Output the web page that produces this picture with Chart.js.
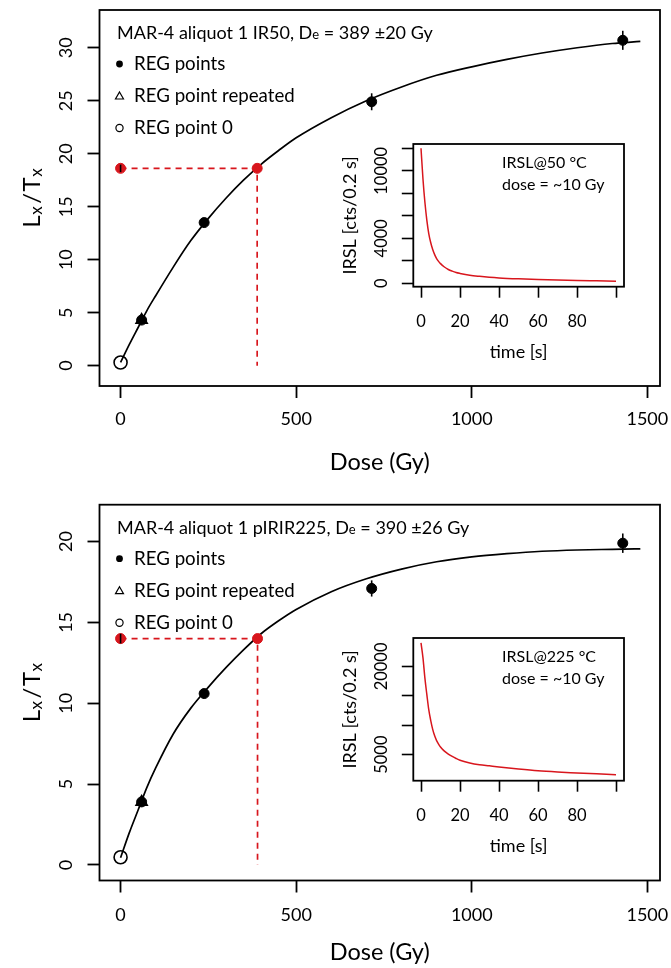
<!DOCTYPE html>
<html>
<head>
<meta charset="utf-8">
<script src="https://cdn.jsdelivr.net/npm/chart.js@4/dist/chart.umd.min.js"></script>
<style>
html, body { margin: 0; padding: 0; background: #fff; overflow: hidden; }
#wrap { position: relative; width: 671px; height: 968px; }
canvas { position: absolute; }
</style>
</head>
<body>
<div id="wrap">
<canvas id="main1" width="671" height="484" style="left:0px;top:0px"></canvas>
<canvas id="inset1" width="300" height="230" style="left:330px;top:134px"></canvas>
<canvas id="main2" width="671" height="484" style="left:0px;top:494px"></canvas>
<canvas id="inset2" width="300" height="230" style="left:330px;top:628px"></canvas>
</div>
<script>
// fitted growth curves (dose in Gy, Lx/Tx)
var curveDose = [0, 25, 50, 75, 100, 150, 200, 250, 300, 350, 400, 450, 500, 600, 700, 800, 900, 1000, 1100, 1200, 1300, 1400, 1480];
var curveIR50 = [0.3, 2.0, 3.6, 5.2, 6.6, 9.3, 11.8, 13.9, 15.8, 17.5, 19.0, 20.3, 21.5, 23.4, 25.0, 26.3, 27.4, 28.2, 28.9, 29.5, 30.0, 30.4, 30.6];
var curvePIR = [0.45, 2.0, 3.4, 4.8, 6.0, 8.1, 9.7, 11.0, 12.2, 13.3, 14.3, 15.1, 15.8, 16.9, 17.7, 18.3, 18.75, 19.05, 19.25, 19.4, 19.48, 19.52, 19.55];

// regenerated points
var regDose = [60, 238, 715, 1430];
var regIR50 = [4.3, 13.5, 24.9, 30.7];
var regIR50Err = [0.2, 0.3, 0.8, 0.9];
var regPIR = [3.9, 10.6, 17.1, 19.9];
var regPIRErr = [0.15, 0.25, 0.5, 0.6];
var repDose = [60];
var repIR50 = [4.3];
var repPIR = [3.9];
var zeroIR50 = 0.3;
var zeroPIR = 0.48;

// natural signal and De
var lnIR50 = 18.62, lnIR50Err = 0.35, deIR50 = 389;
var lnPIR = 14.0, lnPIRErr = 0.3, dePIR = 390;

// inset decay curves
var timeS = [0, 1, 2, 3, 4, 5, 6, 7, 8, 9, 10, 12, 14, 16, 18, 20, 25, 30, 35, 40, 50, 60, 70, 80, 90, 100];
var irsl50 = [12000, 9300, 7200, 5600, 4400, 3600, 3000, 2550, 2200, 1950, 1750, 1450, 1230, 1080, 960, 880, 720, 620, 540, 480, 400, 340, 290, 250, 220, 190];
var irsl225 = [24000, 21500, 18000, 15200, 12600, 10800, 9300, 8200, 7400, 6800, 6300, 5600, 5100, 4700, 4350, 4050, 3600, 3300, 3100, 2900, 2550, 2250, 2050, 1900, 1750, 1600];

// ticks and tick labels
var doseTicks = [0, 500, 1000, 1500];
var ir50Ticks = [0, 5, 10, 15, 20, 25, 30];
var pirTicks = [0, 5, 10, 15, 20];
var timeTicks = [0, 20, 40, 60, 80, 100];
var timeTickLabels = [0, 20, 40, 60, 80];
var irsl50Ticks = [0, 2000, 4000, 6000, 8000, 10000, 12000];
var irsl50TickLabels = [0, 4000, 10000];
var irsl225Ticks = [5000, 10000, 15000, 20000];
var irsl225TickLabels = [5000, 20000];

var RED = '#d8161d';
var FONT = 'Lato';
Chart.defaults.font.family = FONT;
Chart.defaults.color = '#000';

var drawers = {};

function pts(xs, ys) {
	return xs.map(function (x, i) { return {x: x, y: ys[i]}; });
}

function fixedTicks(list) {
	return function (s) { s.ticks = list.map(function (v) { return {value: v}; }); };
}

// vertical error bars from dataset.errors
var errorBars = {
	id: 'errorBars',
	afterDatasetsDraw: function (chart) {
		var ctx = chart.ctx, xs = chart.scales.x, ys = chart.scales.y;
		chart.data.datasets.forEach(function (ds) {
			if (!ds.errors) return;
			ctx.save();
			ctx.strokeStyle = '#000';
			ctx.lineWidth = 1.6;
			ds.data.forEach(function (p, i) {
				var e = ds.errors[i];
				if (!e) return;
				var px = xs.getPixelForValue(p.x);
				ctx.beginPath();
				ctx.moveTo(px, ys.getPixelForValue(p.y - e));
				ctx.lineTo(px, ys.getPixelForValue(p.y + e));
				ctx.stroke();
			});
			ctx.restore();
		});
	}
};

// box around the plot region + free text
var frame = {
	id: 'frame',
	afterDraw: function (chart) {
		var a = chart.chartArea, ctx = chart.ctx;
		ctx.save();
		ctx.strokeStyle = '#000';
		ctx.lineWidth = 1.8;
		ctx.strokeRect(a.left, a.top, a.right - a.left, a.bottom - a.top);
		ctx.restore();
		var d = drawers[chart.canvas.id];
		if (d) d(ctx, chart);
	}
};

// parts: [text, size, dy, extra advance]
function drawParts(ctx, x, y, parts) {
	parts.forEach(function (p) {
		ctx.font = p[1] + 'px ' + FONT;
		ctx.fillText(p[0], x, y + (p[2] || 0));
		x += ctx.measureText(p[0]).width + (p[3] || 0);
	});
}

function partsWidth(ctx, parts) {
	var w = 0;
	parts.forEach(function (p) { ctx.font = p[1] + 'px ' + FONT; w += ctx.measureText(p[0]).width + (p[3] || 0); });
	return w;
}

function mainLegend(title) {
	return function (ctx, chart) {
		var top = chart.chartArea.top;
		ctx.save();
		ctx.fillStyle = '#000';
		ctx.strokeStyle = '#000';
		ctx.textBaseline = 'middle';
		drawParts(ctx, 117, top + 23, title);
		ctx.font = '18.7px ' + FONT;
		ctx.fillText('REG points', 134, top + 54);
		ctx.fillText('REG point repeated', 134, top + 86);
		ctx.fillText('REG point 0', 134, top + 118);
		ctx.lineWidth = 1.2;
		ctx.beginPath();
		ctx.arc(119.5, top + 54, 3.4, 0, Math.PI * 2);
		ctx.fill();
		ctx.beginPath();
		ctx.moveTo(119.5, top + 82);
		ctx.lineTo(123.5, top + 89);
		ctx.lineTo(115.5, top + 89);
		ctx.closePath();
		ctx.stroke();
		ctx.beginPath();
		ctx.arc(119.5, top + 118, 3.6, 0, Math.PI * 2);
		ctx.stroke();
		// y axis title with subscripts
		var a = chart.chartArea;
		ctx.translate(32, (a.top + a.bottom) / 2);
		ctx.rotate(-Math.PI / 2);
		var parts = [['L', 24, 0, 0.5], ['x', 17, 5, 2.5], ['/', 24, 0, 1.5], ['T', 24, 0, 0.5], ['x', 17, 5]];
		drawParts(ctx, -partsWidth(ctx, parts) / 2, 0, parts);
		ctx.restore();
	};
}

function insetText(line1) {
	return function (ctx) {
		ctx.save();
		ctx.fillStyle = '#000';
		ctx.textBaseline = 'middle';
		ctx.font = '16px ' + FONT;
		ctx.fillText(line1, 172, 29);
		ctx.fillText('dose = ~10 Gy', 172, 51);
		ctx.restore();
	};
}

function mainChart(id, o) {
	drawers[id] = mainLegend(o.title);
	return new Chart(document.getElementById(id), {
		type: 'scatter',
		data: {
			datasets: [
				{data: pts(curveDose, o.curve), showLine: true, borderColor: '#000', borderWidth: 1.7, pointRadius: 0, cubicInterpolationMode: 'monotone', order: 10},
				{data: [{x: 0, y: o.ln}, {x: o.de, y: o.ln}, {x: o.de, y: 0}], showLine: true, borderColor: RED, borderWidth: 1.7, borderDash: [6, 5], pointRadius: 0, order: 9},
				{data: pts(regDose, o.reg), errors: o.regErr, pointStyle: 'circle', pointRadius: 5, backgroundColor: '#000', borderColor: '#000', order: 5},
				{data: pts(repDose, o.rep), pointStyle: 'triangle', pointRadius: 6.5, backgroundColor: '#000', borderColor: '#000', borderWidth: 1.5, order: 4},
				{data: [{x: 0, y: o.zero}], pointStyle: 'circle', pointRadius: 6.5, backgroundColor: 'rgba(0,0,0,0)', borderColor: '#000', borderWidth: 1.6, order: 3},
				{data: [{x: 0, y: o.ln}, {x: o.de, y: o.ln}], errors: [o.lnErr, 0], pointStyle: 'circle', pointRadius: 5, backgroundColor: RED, borderColor: RED, order: 2}
			]
		},
		options: {
			responsive: false,
			animation: false,
			events: [],
			layout: {padding: {top: o.top, right: 11, left: 0, bottom: 0}},
			plugins: {legend: {display: false}, tooltip: {enabled: false}},
			scales: {
				x: {
					type: 'linear', min: -60, max: 1536,
					afterBuildTicks: fixedTicks(doseTicks),
					afterFit: function (s) { s.height = 484 - o.bottom; s.paddingLeft = 0; s.paddingRight = 0; },
					ticks: {autoSkip: false, maxRotation: 0, padding: o.xPad, font: {size: 18},
						callback: function (v) { return String(v); }},
					grid: {drawOnChartArea: false, tickLength: 12, tickColor: '#000', tickWidth: 1.8},
					border: {display: false},
					title: {display: true, text: 'Dose (Gy)', font: {size: 23.5}, padding: {top: 0, bottom: o.titlePad}}
				},
				y: {
					type: 'linear', min: o.yMin, max: o.yMax,
					afterBuildTicks: fixedTicks(o.yTicks),
					afterFit: function (s) { s.width = 99.5; s.paddingTop = 0; s.paddingBottom = 0; },
					ticks: {autoSkip: false, minRotation: 90, maxRotation: 90, crossAlign: 'center', padding: 11, font: {size: 18},
						callback: function (v) { return String(v); }},
					grid: {drawOnChartArea: false, tickLength: 12, tickColor: '#000', tickWidth: 1.8},
					border: {display: false}
				}
			}
		},
		plugins: [errorBars, frame]
	});
}

function insetChart(id, o) {
	drawers[id] = insetText(o.label);
	return new Chart(document.getElementById(id), {
		type: 'scatter',
		data: {
			datasets: [
				{data: pts(timeS, o.data), showLine: true, borderColor: RED, borderWidth: 1.5, pointRadius: 0, cubicInterpolationMode: 'monotone'}
			]
		},
		options: {
			responsive: false,
			animation: false,
			events: [],
			layout: {padding: {top: 10, right: 6, left: 0, bottom: 0}},
			plugins: {legend: {display: false}, tooltip: {enabled: false}},
			scales: {
				x: {
					type: 'linear', min: -3.95, max: 104.1,
					afterBuildTicks: fixedTicks(timeTicks),
					afterFit: function (s) { s.height = 77.3; s.paddingLeft = 0; s.paddingRight = 0; },
					ticks: {autoSkip: false, maxRotation: 0, padding: 14, font: {size: 16.5},
						callback: function (v) { return timeTickLabels.indexOf(v) >= 0 ? String(v) : ''; }},
					grid: {drawOnChartArea: false, tickLength: 11, tickColor: '#000', tickWidth: 1.6},
					border: {display: false},
					title: {display: true, text: 'time [s]', font: {size: 18}, padding: {top: 0, bottom: 1.5}}
				},
				y: {
					type: 'linear', min: o.yMin, max: o.yMax,
					afterBuildTicks: fixedTicks(o.ticks),
					afterFit: function (s) { s.width = 83.3; s.paddingTop = 0; s.paddingBottom = 0; },
					ticks: {autoSkip: false, minRotation: 90, maxRotation: 90, crossAlign: 'center', padding: -4, font: {size: 16.5},
						callback: function (v) { return o.labels.indexOf(v) >= 0 ? String(v) : ''; }},
					grid: {drawOnChartArea: false, tickLength: 11.5, tickColor: '#000', tickWidth: 1.6},
					border: {display: false},
					title: {display: true, text: 'IRSL [cts/0.2 s]', font: {size: 18}, padding: {top: 9, bottom: 0}}
				}
			}
		},
		plugins: [frame]
	});
}

mainChart('main1', {
	curve: curveIR50, reg: regIR50, regErr: regIR50Err, rep: repIR50, zero: zeroIR50,
	ln: lnIR50, lnErr: lnIR50Err, de: deIR50, yTicks: ir50Ticks,
	yMin: -1.92, yMax: 33.56, top: 10, bottom: 386, xPad: 10, titlePad: 7,
	title: [['MAR-4 aliquot 1 IR50, D', 18], ['e', 13, 2], [' = 389 \u00b120 Gy', 18]]
});
mainChart('main2', {
	curve: curvePIR, reg: regPIR, regErr: regPIRErr, rep: repPIR, zero: zeroPIR,
	ln: lnPIR, lnErr: lnPIRErr, de: dePIR, yTicks: pirTicks,
	yMin: -0.96, yMax: 22.28, top: 10.7, bottom: 386.5, xPad: 12, titlePad: 11,
	title: [['MAR-4 aliquot 1 pIRIR225, D', 18], ['e', 13, 2], [' = 390 \u00b126 Gy', 18]]
});
insetChart('inset1', {data: irsl50, yMin: -302, yMax: 12382, ticks: irsl50Ticks, labels: irsl50TickLabels, label: 'IRSL@50 \u00b0C'});
insetChart('inset2', {data: irsl225, yMin: 578, yMax: 24830, ticks: irsl225Ticks, labels: irsl225TickLabels, label: 'IRSL@225 \u00b0C'});
</script>
</body>
</html>
